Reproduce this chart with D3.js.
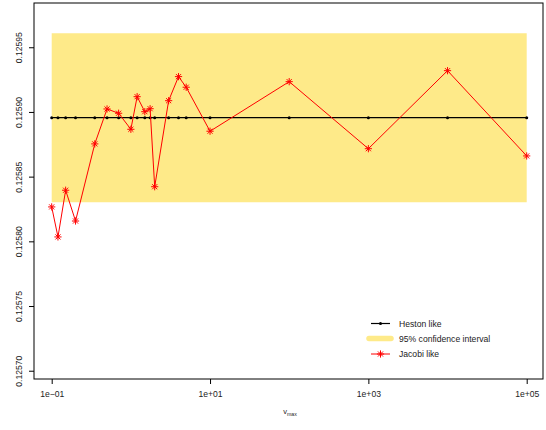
<!DOCTYPE html>
<html>
<head>
<meta charset="utf-8">
<script src="https://cdn.jsdelivr.net/npm/d3@7"></script>
<style>
  html, body { margin: 0; padding: 0; background: #fff; }
  svg { display: block; font-family: "Liberation Sans", Arial, Helvetica, sans-serif; }
</style>
</head>
<body>
<svg id="chart" width="546" height="430"></svg>
<script>
// v_max grid used for both pricing approaches
const vmax = [0.1, 0.12, 0.15, 0.2, 0.35, 0.5, 0.7, 1, 1.2, 1.5, 1.75, 2, 3, 4, 5, 10, 100, 1000, 10000, 100000];

// Jacobi-like model prices for each v_max
const jacobi = [0.1258266, 0.1258034, 0.1258395, 0.1258157, 0.1258753, 0.1259023, 0.1258990,
                0.1258866, 0.1259118, 0.1259002, 0.1259025, 0.1258422, 0.1259087, 0.1259273,
                0.1259191, 0.1258851, 0.1259234, 0.1258716, 0.1259319, 0.1258660];

// Heston-like reference price (independent of v_max)
const hestonPrice = 0.1258956;
const heston = vmax.map(() => hestonPrice);

// 95% confidence interval of the reference price
const ciLower = 0.1258302;
const ciUpper = 0.1259608;

// Axis ticks
const xTicks = [0.1, 10, 1000, 100000];
const xTickLabels = ["1e\u221201", "1e+01", "1e+03", "1e+05"];
const yTicks = [0.12570, 0.12575, 0.12580, 0.12585, 0.12590, 0.12595];

const legendItems = ["Heston like", "95% confidence interval", "Jacobi like"];

const svg = d3.select("#chart");
const box = { left: 34, right: 543, top: 3, bottom: 379 };

const x = d3.scaleLog().domain([0.1, 100000]).range([51.7, 526.7]);
const y = d3.scaleLinear().domain([0.1256936, 0.1259842]).range([box.bottom, box.top]);

const fontSize = 8.6;

// Confidence band
const band = d3.area()
  .x(d => x(d))
  .y0(() => y(ciLower))
  .y1(() => y(ciUpper));
svg.append("path")
  .datum([vmax[0], vmax[vmax.length - 1]])
  .attr("d", band)
  .attr("fill", "#FEEA89");

// Heston line and points
const line = d3.line().x(d => x(d[0])).y(d => y(d[1]));
const hestonPts = vmax.map((v, i) => [v, heston[i]]);
svg.append("path")
  .datum(hestonPts)
  .attr("d", line)
  .attr("fill", "none")
  .attr("stroke", "#000")
  .attr("stroke-width", 1.2);
svg.append("g").selectAll("circle")
  .data(hestonPts)
  .join("circle")
  .attr("cx", d => x(d[0]))
  .attr("cy", d => y(d[1]))
  .attr("r", 1.5)
  .attr("fill", "#000");

// Asterisk marker (plus overlaid with a cross)
function star(g, cx, cy, r) {
  const d = r * 0.7071;
  const p = `M${cx - r},${cy}L${cx + r},${cy}M${cx},${cy - r}L${cx},${cy + r}` +
            `M${cx - d},${cy - d}L${cx + d},${cy + d}M${cx - d},${cy + d}L${cx + d},${cy - d}`;
  g.append("path").attr("d", p).attr("stroke", "#FF0000").attr("stroke-width", 1).attr("fill", "none");
}

// Jacobi line and markers
const jacobiPts = vmax.map((v, i) => [v, jacobi[i]]);
svg.append("path")
  .datum(jacobiPts)
  .attr("d", line)
  .attr("fill", "none")
  .attr("stroke", "#FF0000")
  .attr("stroke-width", 1);
const jg = svg.append("g");
jacobiPts.forEach(d => star(jg, x(d[0]), y(d[1]), 3.6));

// Frame
svg.append("rect")
  .attr("x", box.left).attr("y", box.top)
  .attr("width", box.right - box.left).attr("height", box.bottom - box.top)
  .attr("fill", "none").attr("stroke", "#000").attr("stroke-width", 1);

// X axis
const xAxis = d3.axisBottom(x)
  .tickValues(xTicks)
  .tickFormat((d, i) => xTickLabels[i])
  .tickSize(5)
  .tickPadding(7);
const gx = svg.append("g").attr("transform", `translate(0,${box.bottom})`).call(xAxis);
gx.select(".domain").remove();
gx.selectAll("text").attr("font-size", fontSize).attr("fill", "#222").attr("font-family", null);

// Y axis with vertical labels
const yAxis = d3.axisLeft(y)
  .tickValues(yTicks)
  .tickFormat(d3.format(".5f"))
  .tickSize(5);
const gy = svg.append("g").attr("transform", `translate(${box.left},0)`).call(yAxis);
gy.select(".domain").remove();
gy.selectAll("text")
  .attr("font-size", fontSize)
  .attr("fill", "#222")
  .attr("font-family", null)
  .attr("x", null).attr("dy", null)
  .attr("text-anchor", "middle")
  .attr("transform", "translate(-12,0) rotate(-90)");

// X axis title: v_max
const xt = svg.append("text")
  .attr("x", 290).attr("y", 414)
  .attr("text-anchor", "middle")
  .attr("font-size", 7.5)
  .attr("fill", "#222");
xt.append("tspan").text("v");
xt.append("tspan").attr("font-size", 5.2).attr("dy", 1.8).text("max");

// Legend
const lg = svg.append("g");
const rows = [323.5, 338.5, 354];
const lx0 = 371, lx1 = 390, tx = 399;
// Heston
lg.append("line").attr("x1", lx0).attr("x2", lx1).attr("y1", rows[0]).attr("y2", rows[0])
  .attr("stroke", "#000").attr("stroke-width", 1.2);
lg.append("circle").attr("cx", (lx0 + lx1) / 2).attr("cy", rows[0]).attr("r", 1.5).attr("fill", "#000");
// Confidence interval
lg.append("line").attr("x1", 369).attr("x2", 391).attr("y1", rows[1]).attr("y2", rows[1])
  .attr("stroke", "#FEEA89").attr("stroke-width", 5.5).attr("stroke-linecap", "round");
// Jacobi
lg.append("line").attr("x1", lx0).attr("x2", lx1).attr("y1", rows[2]).attr("y2", rows[2])
  .attr("stroke", "#FF0000").attr("stroke-width", 1);
star(lg, (lx0 + lx1) / 2, rows[2], 3.6);
lg.selectAll("text.leg")
  .data(legendItems)
  .join("text")
  .attr("class", "leg")
  .attr("x", tx)
  .attr("y", (d, i) => rows[i])
  .attr("dy", "0.35em")
  .attr("font-size", fontSize)
  .attr("fill", "#222")
  .text(d => d);
</script>
</body>
</html>
